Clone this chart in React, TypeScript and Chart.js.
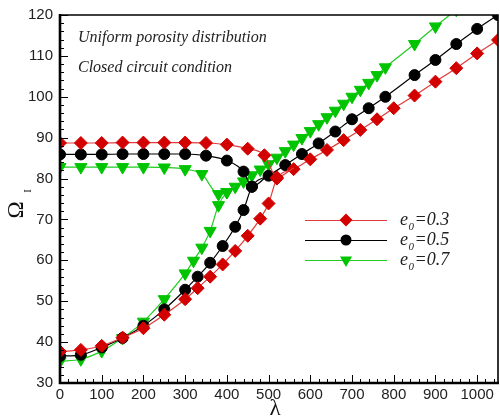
import React, { useEffect, useRef } from 'react';
import { Chart, registerables } from 'chart.js';

Chart.register(...registerables);

// ---------- Data ----------
const lambdaRedLower = [0, 50, 100, 150, 200, 250, 300, 330, 360, 390, 420, 450, 480, 500, 520, 560, 600, 640, 680, 720, 760, 800, 850, 900, 950, 1000, 1050];
const omegaRedLower = [37.7, 38.1, 39.1, 41.1, 43.4, 46.7, 50.5, 53.2, 56.0, 59.0, 62.3, 66.0, 70.2, 73.9, 80.0, 82.3, 84.7, 87.0, 89.4, 91.9, 94.5, 97.2, 100.3, 103.7, 107.0, 110.6, 113.9];
const lambdaRedUpper = [0, 50, 100, 150, 200, 250, 300, 350, 400, 450, 490, 520, 560];
const omegaRedUpper = [88.7, 88.7, 88.7, 88.8, 88.8, 88.8, 88.8, 88.7, 88.3, 87.3, 85.7, 80.3, 82.6];

const lambdaBlackLower = [0, 50, 100, 150, 200, 250, 300, 330, 360, 390, 420, 440, 460, 500, 540, 580, 620, 660, 700, 740, 780, 850, 900, 950, 1000, 1050];
const omegaBlackLower = [36.6, 36.9, 38.7, 41.0, 44.0, 48.0, 52.8, 56.0, 59.4, 63.5, 68.2, 72.3, 78.0, 80.7, 83.3, 86.0, 88.6, 91.5, 94.5, 97.2, 100.0, 105.3, 109.0, 112.9, 116.6, 120.0];
const lambdaBlackUpper = [0, 50, 100, 150, 200, 250, 300, 350, 400, 440, 460, 500];
const omegaBlackUpper = [85.9, 85.9, 85.9, 86.0, 86.0, 86.0, 86.0, 85.6, 84.4, 81.7, 78.0, 81.0];

const lambdaGreenLower = [0, 50, 100, 150, 200, 250, 300, 320, 340, 360, 380, 400, 420, 440, 460, 480, 500, 520, 540, 560, 580, 600, 620, 640, 660, 680, 700, 720, 740, 760, 780, 850, 900, 950];
const omegaGreenLower = [35.3, 35.8, 37.8, 41.0, 45.0, 50.5, 56.8, 59.9, 63.1, 67.2, 73.5, 76.7, 78.0, 79.3, 80.8, 82.2, 83.5, 85.1, 86.7, 88.3, 89.9, 91.6, 93.3, 95.0, 96.6, 98.3, 100.0, 101.7, 103.4, 105.3, 107.2, 112.9, 117.2, 121.3];
const lambdaGreenUpper = [0, 50, 100, 150, 200, 250, 300, 340, 380, 400, 420];
const omegaGreenUpper = [82.8, 82.8, 82.8, 82.8, 82.8, 82.7, 82.3, 81.1, 76.2, 76.7, 78.3];

const legendLabels = ['0.3', '0.5', '0.7'];
const annotationLines = ['Uniform porosity distribution', 'Closed circuit condition'];

const X_MIN = 0, X_MAX = 1050, X_MAJOR = 100, X_MINOR = 20;
const Y_MIN = 30, Y_MAX = 120, Y_MAJOR = 10, Y_MINOR = 2;

// ---------- Styles ----------
const RED_LINE = '#e23b3b', RED_MARK = '#d30000';
const BLACK_LINE = '#000000', BLACK_MARK = '#000000';
const GREEN_LINE = '#1fcc1f', GREEN_MARK = '#00c400';

const zip = (xs: number[], ys: number[]) => xs.map((x, i) => ({ x, y: ys[i] }));

function makeSet(xs: number[], ys: number[], line: string, mark: string, style: any, radius: number, rotation: number, hideLast: boolean) {
  const n = xs.length;
  return {
    data: zip(xs, ys),
    borderColor: line,
    borderWidth: 1.2,
    backgroundColor: mark,
    pointBackgroundColor: mark,
    pointBorderColor: mark,
    pointBorderWidth: 1,
    pointStyle: style,
    pointRotation: rotation,
    pointRadius: (c: any) => (hideLast && c.dataIndex === n - 1 ? 0 : radius),
    cubicInterpolationMode: 'monotone',
    fill: false,
  };
}

function drawMarker(ctx: CanvasRenderingContext2D, kind: string, x: number, y: number, r: number, color: string) {
  ctx.beginPath();
  ctx.fillStyle = color;
  if (kind === 'diamond') {
    ctx.moveTo(x - r, y); ctx.lineTo(x, y - r); ctx.lineTo(x + r, y); ctx.lineTo(x, y + r); ctx.closePath();
  } else if (kind === 'circle') {
    ctx.arc(x, y, r, 0, Math.PI * 2);
  } else {
    const h = r * Math.sqrt(3) / 2;
    ctx.moveTo(x - h, y - r / 2); ctx.lineTo(x + h, y - r / 2); ctx.lineTo(x, y + r); ctx.closePath();
  }
  ctx.fill();
}

const decorPlugin = {
  id: 'decor',
  afterDraw(chart: any) {
    const { ctx, chartArea: a, scales } = chart;
    const xs = scales.x, ys = scales.y;
    ctx.save();
    ctx.strokeStyle = '#000';
    // inward ticks
    ctx.lineWidth = 1;
    ctx.beginPath();
    for (let v = X_MIN; v <= X_MAX; v += X_MINOR) {
      const px = Math.round(xs.getPixelForValue(v)) + 0.5;
      const len = v % X_MAJOR === 0 ? 8 : 4;
      ctx.moveTo(px, a.bottom); ctx.lineTo(px, a.bottom - len);
    }
    for (let v = Y_MIN; v <= Y_MAX; v += Y_MINOR) {
      const py = Math.round(ys.getPixelForValue(v)) + 0.5;
      const len = v % Y_MAJOR === 0 ? 8 : 4;
      ctx.moveTo(a.left, py); ctx.lineTo(a.left + len, py);
    }
    ctx.stroke();
    // frame
    ctx.lineWidth = 1.6;
    ctx.beginPath();
    ctx.moveTo(a.left, a.top); ctx.lineTo(a.right, a.top); ctx.lineTo(a.right, a.bottom);
    ctx.stroke();
    ctx.lineWidth = 2.6;
    ctx.beginPath();
    ctx.moveTo(a.left, a.top - 1); ctx.lineTo(a.left, a.bottom); ctx.lineTo(a.right + 1, a.bottom);
    ctx.stroke();

    // annotation text
    ctx.fillStyle = '#222';
    ctx.font = 'italic 16px "Liberation Serif", "Times New Roman", serif';
    ctx.textAlign = 'left';
    ctx.textBaseline = 'alphabetic';
    ctx.fillText(annotationLines[0], a.left + 18, a.top + 27);
    ctx.fillText(annotationLines[1], a.left + 18, a.top + 57);

    // legend
    const rows = [
      { line: RED_LINE, mark: RED_MARK, kind: 'diamond', r: 6.5 },
      { line: BLACK_LINE, mark: BLACK_MARK, kind: 'circle', r: 5.5 },
      { line: GREEN_LINE, mark: GREEN_MARK, kind: 'triangle', r: 7 },
    ];
    rows.forEach((row, i) => {
      const y = 220 + i * 20;
      ctx.strokeStyle = row.line;
      ctx.lineWidth = 1.2;
      ctx.beginPath(); ctx.moveTo(305, y + 0.5); ctx.lineTo(387, y + 0.5); ctx.stroke();
      drawMarker(ctx, row.kind, 346, y, row.r, row.mark);
      ctx.fillStyle = '#222';
      ctx.font = 'italic 18px "Liberation Serif", "Times New Roman", serif';
      ctx.fillText('e', 400, y + 5);
      const ew = ctx.measureText('e').width;
      ctx.font = 'italic 11px "Liberation Serif", "Times New Roman", serif';
      ctx.fillText('0', 400 + ew + 0.5, y + 10);
      const zw = ctx.measureText('0').width;
      ctx.font = 'italic 18px "Liberation Serif", "Times New Roman", serif';
      ctx.fillText('=' + legendLabels[i], 400 + ew + zw + 1, y + 5);
    });

    // axis titles
    ctx.fillStyle = '#111';
    ctx.font = '23px "Liberation Serif", "Times New Roman", serif';
    ctx.textAlign = 'center';
    ctx.textBaseline = 'middle';
    ctx.fillText('λ', (a.left + a.right) / 2 - 4, 409);
    ctx.save();
    ctx.translate(16.5, 210);
    ctx.rotate(-Math.PI / 2);
    ctx.fillText('Ω', 0, 0);
    ctx.font = '11px "Liberation Serif", "Times New Roman", serif';
    ctx.fillText('I', 19, 12);
    ctx.restore();
    ctx.restore();
  },
};

export default function App() {
  const ref = useRef<HTMLCanvasElement>(null);
  useEffect(() => {
    const tickFont = { family: '"Liberation Sans", Arial, sans-serif', size: 15 };
    const chart = new Chart(ref.current as HTMLCanvasElement, {
      type: 'line',
      data: {
        datasets: [
          makeSet(lambdaRedUpper, omegaRedUpper, RED_LINE, RED_MARK, 'rectRot', 6.5, 0, true),
          makeSet(lambdaRedLower, omegaRedLower, RED_LINE, RED_MARK, 'rectRot', 6.5, 0, false),
          makeSet(lambdaBlackUpper, omegaBlackUpper, BLACK_LINE, BLACK_MARK, 'circle', 5.5, 0, true),
          makeSet(lambdaBlackLower, omegaBlackLower, BLACK_LINE, BLACK_MARK, 'circle', 5.5, 0, false),
          makeSet(lambdaGreenUpper, omegaGreenUpper, GREEN_LINE, GREEN_MARK, 'triangle', 7, 180, true),
          makeSet(lambdaGreenLower, omegaGreenLower, GREEN_LINE, GREEN_MARK, 'triangle', 7, 180, false),
        ] as any,
      },
      options: {
        animation: false,
        responsive: false,
        devicePixelRatio: 1,
        layout: { autoPadding: false, padding: { top: 15, right: 2, left: 0, bottom: 0 } },
        plugins: { legend: { display: false }, tooltip: { enabled: false } },
        scales: {
          x: {
            type: 'linear',
            min: X_MIN,
            max: X_MAX,
            grid: { display: false, drawTicks: false },
            border: { display: false },
            ticks: { stepSize: X_MAJOR, includeBounds: false, color: '#222', font: tickFont, padding: 3, maxRotation: 0, callback: (v: any) => String(v) },
            afterFit: (s: any) => { s.height = 35; s.paddingLeft = 0; s.paddingRight = 0; },
          },
          y: {
            type: 'linear',
            min: Y_MIN,
            max: Y_MAX,
            grid: { display: false, drawTicks: false },
            border: { display: false },
            ticks: { stepSize: Y_MAJOR, color: '#222', font: tickFont, padding: 7, callback: (v: any) => String(v) },
            afterFit: (s: any) => { s.width = 60; s.paddingTop = 0; s.paddingBottom = 0; },
          },
        },
      } as any,
      plugins: [decorPlugin],
    });
    return () => chart.destroy();
  }, []);
  return (
    <div style={{ position: 'absolute', left: 0, top: 0, width: 500, height: 418, background: '#fff' }}>
      <canvas ref={ref} width={500} height={418} />
    </div>
  );
}
